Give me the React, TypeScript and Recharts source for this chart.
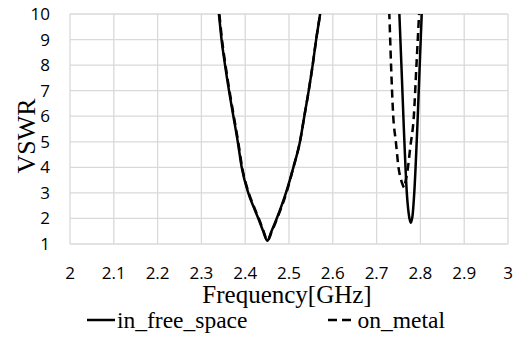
import { LineChart, Line, XAxis, YAxis, CartesianGrid } from 'recharts';

// frequency [GHz] / VSWR pairs (values above 10 are clipped)
const freeSpaceFreq = [
  2.33, 2.34, 2.346, 2.354, 2.363, 2.373, 2.383, 2.392, 2.407, 2.418, 2.43, 2.44, 2.4505,
  2.46, 2.472, 2.482, 2.493, 2.51, 2.525, 2.535, 2.545, 2.554, 2.562, 2.571, 2.58,
  2.62, 2.7, 2.74, 2.752, 2.762, 2.769, 2.774, 2.778, 2.782, 2.786, 2.794, 2.803, 2.812, 2.84,
];
const freeSpaceVswr = [
  11.5, 10, 9, 8, 7, 6, 5, 4, 3, 2.5, 2, 1.55, 1.13,
  1.5, 2, 2.45, 3, 4, 5, 6, 7, 8, 9, 10, 11.2,
  18, 20, 13, 10, 5.6, 3, 2.1, 1.83, 2.1, 3, 6, 10, 13, 18,
];

const onMetalFreq = [
  2.331, 2.341, 2.347, 2.355, 2.364, 2.374, 2.384, 2.393, 2.408, 2.419, 2.431, 2.441, 2.451,
  2.461, 2.473, 2.483, 2.494, 2.51, 2.525, 2.535, 2.545, 2.554, 2.562, 2.571, 2.58,
  2.62, 2.69, 2.72, 2.729, 2.733, 2.738, 2.744, 2.75, 2.756, 2.76, 2.763, 2.766, 2.77,
  2.777, 2.785, 2.791, 2.797, 2.805, 2.83,
];
const onMetalVswr = [
  11.5, 10, 9, 8, 7, 6, 5, 4, 3, 2.5, 2, 1.55, 1.13,
  1.5, 2, 2.45, 3, 4, 5, 6, 7, 8, 9, 10, 11.2,
  18, 20, 12.5, 10, 8, 6, 5, 4, 3.5, 3.3, 3.2, 3.45, 3.8,
  4.8, 6, 8, 10, 12.5, 18,
];

const xTicks = [2, 2.1, 2.2, 2.3, 2.4, 2.5, 2.6, 2.7, 2.8, 2.9, 3];
const yTicks = [1, 2, 3, 4, 5, 6, 7, 8, 9, 10];

const freeSpace = freeSpaceFreq.map((f, i) => ({ f, v: freeSpaceVswr[i] }));
const onMetal = onMetalFreq.map((f, i) => ({ f, v: onMetalVswr[i] }));

const serif = '"Liberation Serif", "Times New Roman", serif';
const tickStyle = { fontFamily: '"Open Sans", sans-serif', fontSize: 17, fill: '#000' };

const YTitle = ({ viewBox }: any) => {
  const cx = viewBox.x + 26;
  const cy = viewBox.y + viewBox.height / 2 + 7;
  return (
    <text
      x={cx}
      y={cy}
      transform={`rotate(-90 ${cx} ${cy})`}
      textAnchor="middle"
      dominantBaseline="central"
      fontFamily={serif}
      fontSize={26}
      fill="#000"
    >
      VSWR
    </text>
  );
};

export default function App() {
  return (
    <div style={{ position: 'absolute', left: 0, top: 0, width: 525, height: 337, background: '#fff' }}>
      <LineChart width={525} height={337} margin={{ top: 14, right: 17, bottom: 0, left: 0 }}>
        <CartesianGrid stroke="#d9d9d9" strokeWidth={1.3} />
        <XAxis
          type="number"
          dataKey="f"
          domain={[2, 3]}
          ticks={xTicks}
          allowDataOverflow
          height={93}
          axisLine={false}
          tickLine={false}
          tickSize={0}
          tickMargin={23}
          tick={tickStyle}
          tickFormatter={(v: number) => String(+v.toFixed(1))}
          label={{
            value: 'Frequency[GHz]',
            position: 'insideTop',
            offset: 41,
            dx: -2,
            style: { fontFamily: serif, fontSize: 25, fill: '#000' },
          }}
        />
        <YAxis
          type="number"
          domain={[1, 10]}
          ticks={yTicks}
          allowDataOverflow
          width={70}
          axisLine={false}
          tickLine={false}
          tickSize={0}
          tickMargin={20}
          tick={tickStyle}
          label={<YTitle />}
        />
        <Line
          data={freeSpace}
          dataKey="v"
          type="monotone"
          stroke="#000"
          strokeWidth={2.5}
          dot={false}
          isAnimationActive={false}
        />
        <Line
          data={onMetal}
          dataKey="v"
          type="monotone"
          stroke="#000"
          strokeWidth={2.5}
          strokeDasharray="8 5"
          dot={false}
          isAnimationActive={false}
        />
      </LineChart>
      <div
        style={{
          position: 'absolute',
          left: 87,
          top: 306,
          display: 'flex',
          alignItems: 'center',
          fontFamily: serif,
          fontSize: 23.5,
          color: '#000',
          lineHeight: '28px',
        }}
      >
        <svg width={30} height={10}>
          <line x1={0} y1={5} x2={28} y2={5} stroke="#000" strokeWidth={2.5} />
        </svg>
        <span>in_free_space</span>
        <svg width={30} height={10} style={{ marginLeft: 80 }}>
          <line x1={1} y1={5} x2={28} y2={5} stroke="#000" strokeWidth={2.5} strokeDasharray="9 5" />
        </svg>
        <span>on_metal</span>
      </div>
    </div>
  );
}
